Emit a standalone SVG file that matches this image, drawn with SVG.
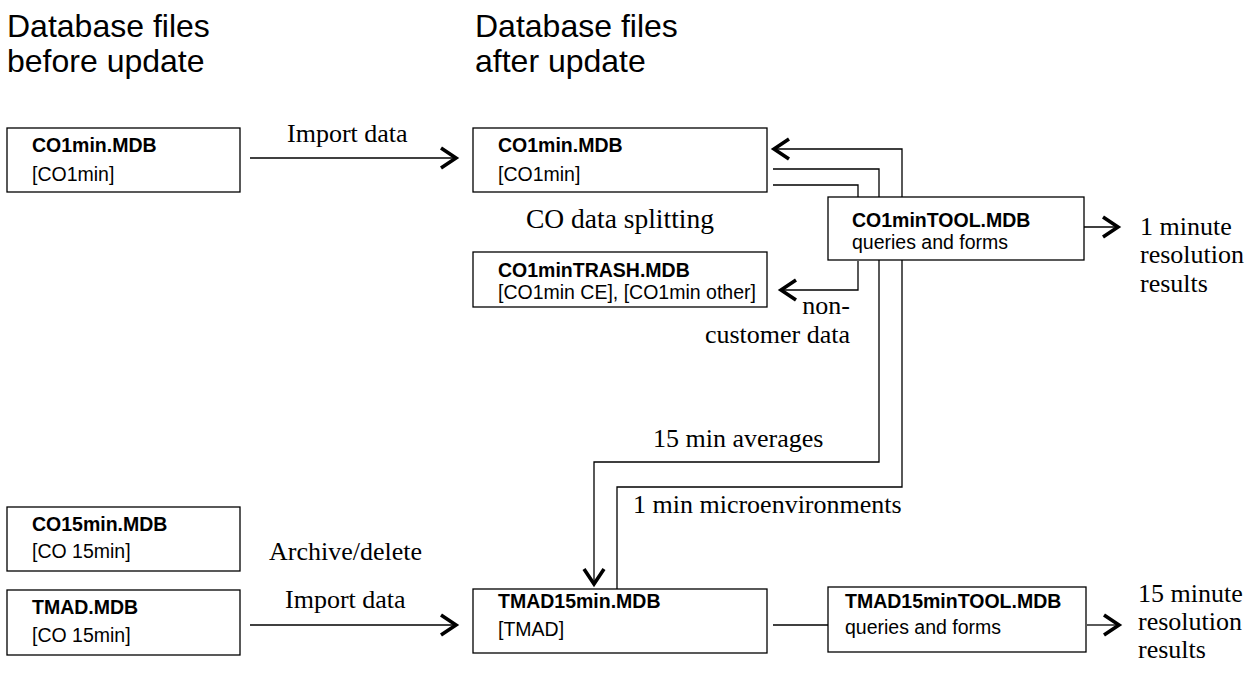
<svg xmlns="http://www.w3.org/2000/svg" width="1255" height="680" viewBox="0 0 1255 680">
<style>
.title{font-family:"Liberation Sans",Arial,sans-serif;font-size:32px;fill:#000}
.b{font-family:"Liberation Sans",Arial,sans-serif;font-size:19.5px;font-weight:bold;fill:#000}
.r{font-family:"Liberation Sans",Arial,sans-serif;font-size:19.5px;fill:#000}
.lbl{font-family:"Liberation Serif","Times New Roman",serif;font-size:26px;fill:#000}
.box{fill:#fff;stroke:#000;stroke-width:1.3}
.con{fill:none;stroke:#000;stroke-width:1.3}
</style>
<defs>
<marker id="chev" markerUnits="userSpaceOnUse" orient="auto" overflow="visible" refX="0" refY="0" markerWidth="24" markerHeight="26" viewBox="-20 -13 24 26">
<path d="M-15,-10 L0,0 L-15,10" fill="none" stroke="#000" stroke-width="3.6"/>
</marker>
</defs>
<rect width="1255" height="680" fill="#fff"/>
<g id="titles">
<text class="title" x="7" y="37">Database files</text>
<text class="title" x="7" y="72">before update</text>
<text class="title" x="475" y="37">Database files</text>
<text class="title" x="475" y="72">after update</text>
</g>
<g id="connectors">
<path class="con" d="M250,158 H456" marker-end="url(#chev)"/>
<path class="con" d="M617,589 V487 H902 V149 H774" marker-end="url(#chev)"/>
<path class="con" d="M773,169 H879 V462 H594 V584" marker-end="url(#chev)"/>
<path class="con" d="M773,185 H858 V197"/>
<path class="con" d="M858,261 V290 H781" marker-end="url(#chev)"/>
<path class="con" d="M1084,227 H1118" marker-end="url(#chev)"/>
<path class="con" d="M250,625 H456" marker-end="url(#chev)"/>
<path class="con" d="M773,625 H828"/>
<path class="con" d="M1087,625 H1119" marker-end="url(#chev)"/>
<text class="lbl" x="287" y="142">Import data</text>
<text class="lbl" x="285" y="608">Import data</text>
<text class="lbl" x="269" y="560">Archive/delete</text>
<text class="lbl" x="526" y="228" style="font-size:27.5px">CO data splitting</text>
<text class="lbl" x="850" y="314" text-anchor="end">non-</text>
<text class="lbl" x="850" y="343" text-anchor="end">customer data</text>
<text class="lbl" x="653" y="447">15 min averages</text>
<text class="lbl" x="633" y="513">1 min microenvironments</text>
<text class="lbl" x="1140" y="235">1 minute</text>
<text class="lbl" x="1140" y="263">resolution</text>
<text class="lbl" x="1140" y="292">results</text>
<text class="lbl" x="1138" y="602">15 minute</text>
<text class="lbl" x="1138" y="630">resolution</text>
<text class="lbl" x="1138" y="658">results</text>
</g>
<g id="co1min-before">
<rect class="box" x="7" y="128" width="233" height="64"/>
<text class="b" x="32" y="152">CO1min.MDB</text>
<text class="r" x="32" y="181">[CO1min]</text>
</g>
<g id="co1min-after">
<rect class="box" x="473" y="128" width="294" height="64"/>
<text class="b" x="498" y="152">CO1min.MDB</text>
<text class="r" x="498" y="181">[CO1min]</text>
</g>
<g id="co1min-trash">
<rect class="box" x="473" y="252" width="294" height="55"/>
<text class="b" x="498" y="277">CO1minTRASH.MDB</text>
<text class="r" x="498" y="299">[CO1min CE], [CO1min other]</text>
</g>
<g id="co1min-tool">
<rect class="box" x="828" y="197" width="256" height="63"/>
<text class="b" x="852" y="227">CO1minTOOL.MDB</text>
<text class="r" x="852" y="249">queries and forms</text>
</g>
<g id="co15min">
<rect class="box" x="7" y="507" width="233" height="64"/>
<text class="b" x="32" y="531">CO15min.MDB</text>
<text class="r" x="32" y="558">[CO 15min]</text>
</g>
<g id="tmad">
<rect class="box" x="7" y="590" width="233" height="65"/>
<text class="b" x="32" y="614">TMAD.MDB</text>
<text class="r" x="32" y="642">[CO 15min]</text>
</g>
<g id="tmad15min">
<rect class="box" x="473" y="589" width="294" height="64"/>
<text class="b" x="498" y="608">TMAD15min.MDB</text>
<text class="r" x="498" y="636">[TMAD]</text>
</g>
<g id="tmad15min-tool">
<rect class="box" x="828" y="587" width="258" height="65"/>
<text class="b" x="845" y="608">TMAD15minTOOL.MDB</text>
<text class="r" x="845" y="634">queries and forms</text>
</g>
</svg>
